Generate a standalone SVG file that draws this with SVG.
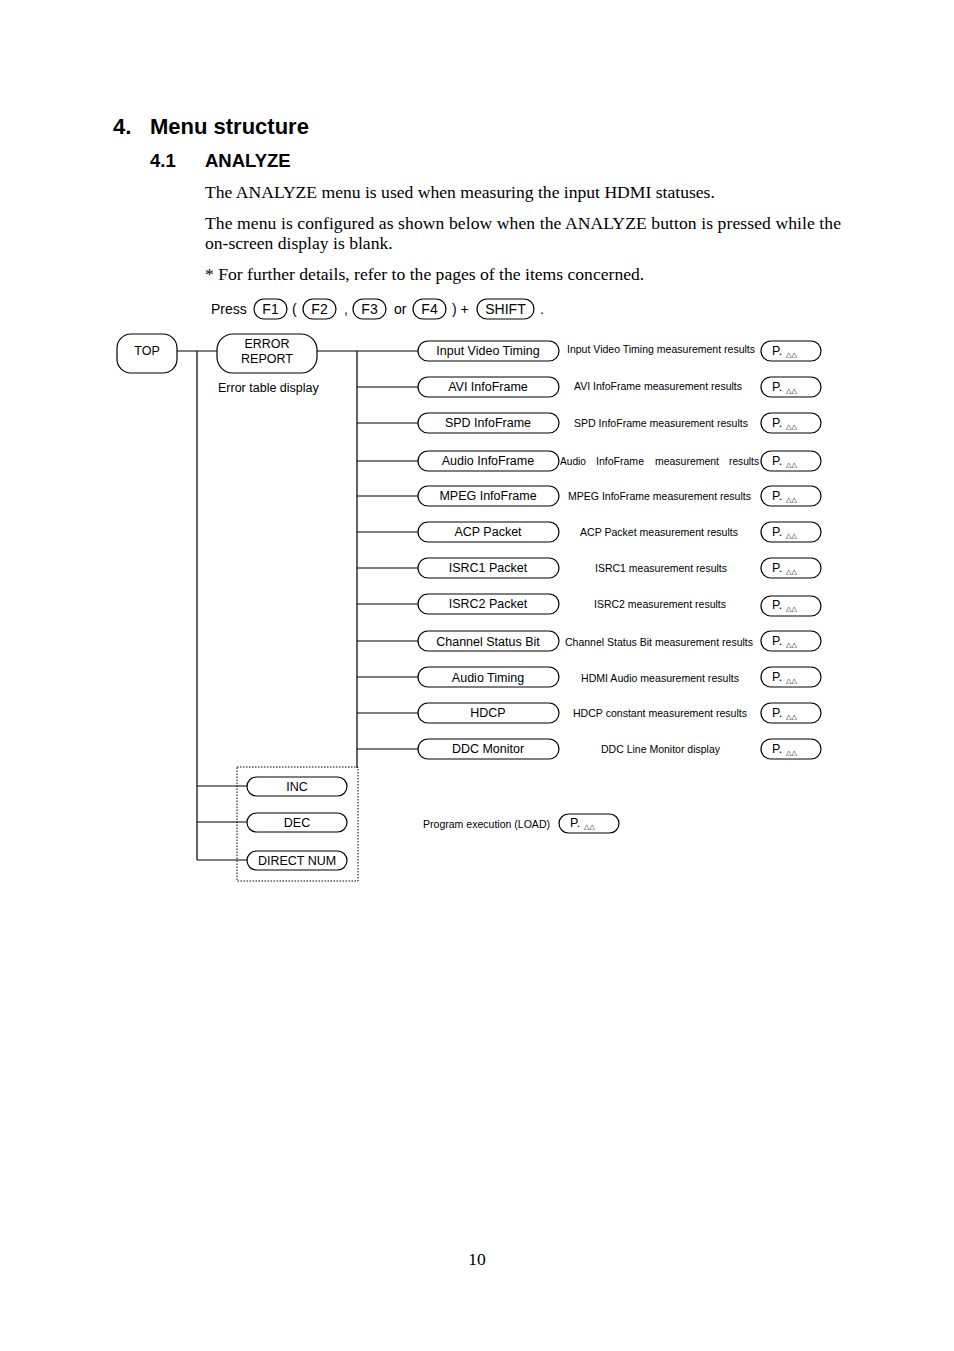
<svg xmlns="http://www.w3.org/2000/svg" width="954" height="1351" viewBox="0 0 954 1351">
<style>
.bg{fill:#fff}
.box{fill:#fff;stroke:#000;stroke-width:1.2}
.ln{fill:none;stroke:#000;stroke-width:1.2}
.dash{fill:none;stroke:#000;stroke-width:1;stroke-dasharray:1.5,1.5}
.s{font-family:"Liberation Sans",Arial,sans-serif;font-size:12.5px;fill:#000}
.c{text-anchor:middle}
.d{font-family:"Liberation Sans",Arial,sans-serif;font-size:10.5px;fill:#000}
.p{font-family:"Liberation Sans",Arial,sans-serif;font-size:12.5px;fill:#000}
.t{font-family:"DejaVu Sans",sans-serif;font-size:7px;fill:#000}
.h1{font-family:"Liberation Sans",Arial,sans-serif;font-size:22px;font-weight:bold;fill:#000}
.h2{font-family:"Liberation Sans",Arial,sans-serif;font-size:18.5px;font-weight:bold;fill:#000}
.body{font-family:"Liberation Serif","Times New Roman",serif;font-size:17.6px;fill:#000}
.press{font-family:"Liberation Sans",Arial,sans-serif;font-size:14px;fill:#000}
</style>
<rect class="bg" x="0" y="0" width="954" height="1351"/>
<g id="header">
<text class="h1" x="113" y="134">4.</text>
<text class="h1" x="150" y="134">Menu structure</text>
<text class="h2" x="150" y="167">4.1</text>
<text class="h2" x="205" y="167">ANALYZE</text>
<text class="body" x="205" y="198">The ANALYZE menu is used when measuring the input HDMI statuses.</text>
<text class="body" x="205" y="229" textLength="636" lengthAdjust="spacing">The menu is configured as shown below when the ANALYZE button is pressed while the</text>
<text class="body" x="205" y="249">on-screen display is blank.</text>
<text class="body" x="205" y="280">* For further details, refer to the pages of the items concerned.</text>
</g>
<g id="press-line">
<text class="press" x="211" y="314">Press</text>
<rect class="box" x="254" y="299" width="33" height="20" rx="10"/>
<text class="press c" x="270.5" y="314">F1</text>
<text class="press" x="292" y="314">(</text>
<rect class="box" x="303" y="299" width="33" height="20" rx="10"/>
<text class="press c" x="319.5" y="314">F2</text>
<text class="press" x="344" y="314">,</text>
<rect class="box" x="353" y="299" width="33" height="20" rx="10"/>
<text class="press c" x="369.5" y="314">F3</text>
<text class="press" x="394" y="314">or</text>
<rect class="box" x="413" y="299" width="33" height="20" rx="10"/>
<text class="press c" x="429.5" y="314">F4</text>
<text class="press" x="452" y="314">) +</text>
<rect class="box" x="477" y="299" width="57" height="20" rx="10"/>
<text class="press c" x="505.5" y="314">SHIFT</text>
<text class="press" x="540" y="314">.</text>
</g>
<g id="connectors">
<path class="ln" d="M177 351H217M197 351V860M197 786H247M197 822H247M197 860H247"/>
<path class="ln" d="M317 351H418M357 351V768"/>
<path class="ln" d="M357 387H418M357 423H418M357 461H418M357 496H418M357 532H418M357 568H418M357 604H418M357 641H418M357 677H418M357 713H418M357 749H418"/>
</g>
<g id="node-top">
<rect class="box" x="117" y="334" width="60" height="39" rx="14"/>
<text class="s c" x="147" y="355">TOP</text>
</g>
<g id="node-error-report">
<rect class="box" x="217" y="334" width="100" height="39" rx="16"/>
<text class="s c" x="267" y="348">ERROR</text>
<text class="s c" x="267" y="363">REPORT</text>
<text class="s" x="218" y="392">Error table display</text>
</g>
<g id="adjust-group">
<rect class="dash" x="237" y="767" width="121" height="114"/>
</g>
<g id="node-inc">
<rect class="box" x="247" y="777" width="100" height="19" rx="9.5"/>
<text class="s c" x="297" y="791">INC</text>
</g>
<g id="node-dec">
<rect class="box" x="247" y="813" width="100" height="19" rx="9.5"/>
<text class="s c" x="297" y="827">DEC</text>
</g>
<g id="node-direct-num">
<rect class="box" x="247" y="851" width="100" height="19" rx="9.5"/>
<text class="s c" x="297" y="865">DIRECT NUM</text>
</g>
<g id="node-input-video-timing">
<rect class="box" x="418" y="341" width="141" height="20" rx="10"/>
<text class="s c" x="488" y="355">Input Video Timing</text>
<text class="d" x="567" y="353" textLength="188" lengthAdjust="spacingAndGlyphs">Input Video Timing measurement results</text>
<rect class="box" x="761" y="341" width="60" height="20" rx="10"/>
<text class="p" x="772" y="355">P.</text><text class="t" x="786" y="357">△△</text>
</g>
<g id="node-avi-infoframe">
<rect class="box" x="418" y="377" width="141" height="20" rx="10"/>
<text class="s c" x="488" y="391">AVI InfoFrame</text>
<text class="d" x="574" y="390" textLength="168" lengthAdjust="spacingAndGlyphs">AVI InfoFrame measurement results</text>
<rect class="box" x="761" y="377" width="60" height="20" rx="10"/>
<text class="p" x="772" y="391">P.</text><text class="t" x="786" y="393">△△</text>
</g>
<g id="node-spd-infoframe">
<rect class="box" x="418" y="413" width="141" height="20" rx="10"/>
<text class="s c" x="488" y="427">SPD InfoFrame</text>
<text class="d" x="574" y="427" textLength="174" lengthAdjust="spacingAndGlyphs">SPD InfoFrame measurement results</text>
<rect class="box" x="761" y="413" width="60" height="20" rx="10"/>
<text class="p" x="772" y="427">P.</text><text class="t" x="786" y="429">△△</text>
</g>
<g id="node-audio-infoframe">
<rect class="box" x="418" y="451" width="141" height="20" rx="10"/>
<text class="s c" x="488" y="465">Audio InfoFrame</text>
<text class="d" x="560" y="465" textLength="26" lengthAdjust="spacingAndGlyphs">Audio</text>
<text class="d" x="596" y="465" textLength="48" lengthAdjust="spacingAndGlyphs">InfoFrame</text>
<text class="d" x="655" y="465" textLength="64" lengthAdjust="spacingAndGlyphs">measurement</text>
<text class="d" x="729" y="465" textLength="30" lengthAdjust="spacingAndGlyphs">results</text>
<rect class="box" x="761" y="451" width="60" height="20" rx="10"/>
<text class="p" x="772" y="465">P.</text><text class="t" x="786" y="467">△△</text>
</g>
<g id="node-mpeg-infoframe">
<rect class="box" x="418" y="486" width="141" height="20" rx="10"/>
<text class="s c" x="488" y="500">MPEG InfoFrame</text>
<text class="d" x="568" y="500" textLength="183" lengthAdjust="spacingAndGlyphs">MPEG InfoFrame measurement results</text>
<rect class="box" x="761" y="486" width="60" height="20" rx="10"/>
<text class="p" x="772" y="500">P.</text><text class="t" x="786" y="502">△△</text>
</g>
<g id="node-acp-packet">
<rect class="box" x="418" y="522" width="141" height="20" rx="10"/>
<text class="s c" x="488" y="536">ACP Packet</text>
<text class="d" x="580" y="536" textLength="158" lengthAdjust="spacingAndGlyphs">ACP Packet measurement results</text>
<rect class="box" x="761" y="522" width="60" height="20" rx="10"/>
<text class="p" x="772" y="536">P.</text><text class="t" x="786" y="538">△△</text>
</g>
<g id="node-isrc1-packet">
<rect class="box" x="418" y="558" width="141" height="20" rx="10"/>
<text class="s c" x="488" y="572">ISRC1 Packet</text>
<text class="d" x="595" y="572" textLength="132" lengthAdjust="spacingAndGlyphs">ISRC1 measurement results</text>
<rect class="box" x="761" y="558" width="60" height="20" rx="10"/>
<text class="p" x="772" y="572">P.</text><text class="t" x="786" y="574">△△</text>
</g>
<g id="node-isrc2-packet">
<rect class="box" x="418" y="594" width="141" height="20" rx="10"/>
<text class="s c" x="488" y="608">ISRC2 Packet</text>
<text class="d" x="594" y="608" textLength="132" lengthAdjust="spacingAndGlyphs">ISRC2 measurement results</text>
<rect class="box" x="761" y="596" width="60" height="20" rx="10"/>
<text class="p" x="772" y="609">P.</text><text class="t" x="786" y="611">△△</text>
</g>
<g id="node-channel-status-bit">
<rect class="box" x="418" y="631" width="141" height="20" rx="10"/>
<text class="s c" x="488" y="646">Channel Status Bit</text>
<text class="d" x="565" y="646" textLength="188" lengthAdjust="spacingAndGlyphs">Channel Status Bit measurement results</text>
<rect class="box" x="761" y="631" width="60" height="20" rx="10"/>
<text class="p" x="772" y="645">P.</text><text class="t" x="786" y="647">△△</text>
</g>
<g id="node-audio-timing">
<rect class="box" x="418" y="667" width="141" height="20" rx="10"/>
<text class="s c" x="488" y="682">Audio Timing</text>
<text class="d" x="581" y="682" textLength="158" lengthAdjust="spacingAndGlyphs">HDMI Audio measurement results</text>
<rect class="box" x="761" y="667" width="60" height="20" rx="10"/>
<text class="p" x="772" y="681">P.</text><text class="t" x="786" y="683">△△</text>
</g>
<g id="node-hdcp">
<rect class="box" x="418" y="703" width="141" height="20" rx="10"/>
<text class="s c" x="488" y="717">HDCP</text>
<text class="d" x="573" y="717" textLength="174" lengthAdjust="spacingAndGlyphs">HDCP constant measurement results</text>
<rect class="box" x="761" y="703" width="60" height="20" rx="10"/>
<text class="p" x="772" y="717">P.</text><text class="t" x="786" y="719">△△</text>
</g>
<g id="node-ddc-monitor">
<rect class="box" x="418" y="739" width="141" height="20" rx="10"/>
<text class="s c" x="488" y="753">DDC Monitor</text>
<text class="d" x="601" y="753" textLength="119" lengthAdjust="spacingAndGlyphs">DDC Line Monitor display</text>
<rect class="box" x="761" y="739" width="60" height="20" rx="10"/>
<text class="p" x="772" y="753">P.</text><text class="t" x="786" y="755">△△</text>
</g>
<g id="node-load">
<text class="d" x="423" y="828" textLength="127" lengthAdjust="spacingAndGlyphs">Program execution (LOAD)</text>
<rect class="box" x="559" y="814" width="60" height="19" rx="9.5"/>
<text class="p" x="570" y="827">P.</text><text class="t" x="584" y="829">△△</text>
</g>
<text class="body c" x="477" y="1265">10</text>
</svg>
